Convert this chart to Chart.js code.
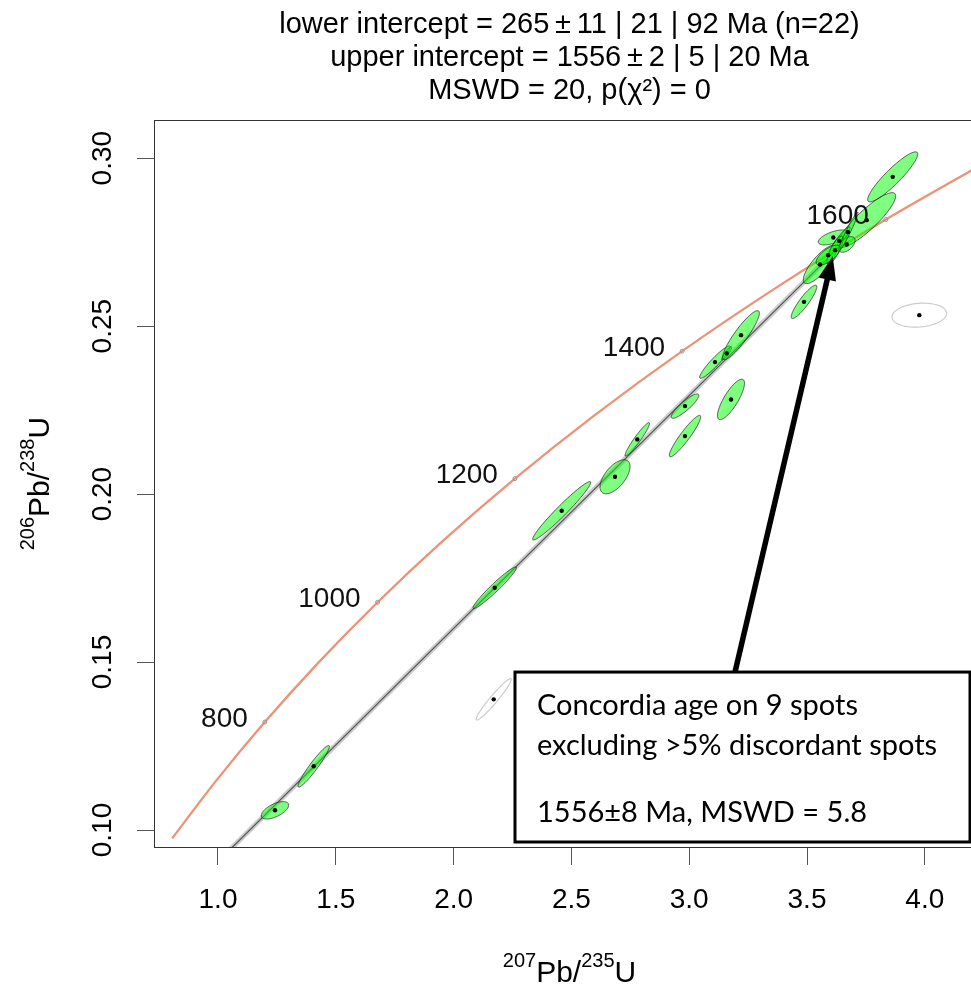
<!DOCTYPE html>
<html>
<head>
<meta charset="utf-8">
<script src="https://cdn.jsdelivr.net/npm/chart.js@4.4.1/dist/chart.umd.min.js"></script>
<style>
  html, body { margin: 0; padding: 0; background: #fff; overflow: hidden; }
  #wrap { position: relative; width: 1000px; height: 985px; }
</style>
</head>
<body>
<div id="wrap"><canvas id="c"></canvas></div>
<script>
// ---------- data ----------
const titleLines = [
  'lower intercept = 265\u2009±\u200911 | 21 | 92 Ma (n=22)',
  'upper intercept = 1556\u2009±\u20092 | 5 | 20 Ma',
  'MSWD = 20, p(\u03C7\u00B2) = 0'
];
const xTicks = [1.0, 1.5, 2.0, 2.5, 3.0, 3.5, 4.0];
const yTicks = [0.10, 0.15, 0.20, 0.25, 0.30];
const xRange = [0.7284, 4.2555];
const yRange = [0.09494, 0.31131];

// concordia curve (ages in Ma)
const concordiaAge = [600, 700, 800, 900, 1000, 1100, 1200, 1300, 1400, 1500, 1600, 1700];
const concordiaX = [0.8056, 0.9925, 1.1987, 1.4263, 1.6774, 1.9545, 2.2603, 2.5977, 2.9701, 3.3810, 3.8344, 4.3348];
const concordiaY = [0.09754, 0.11470, 0.13213, 0.14983, 0.16780, 0.18606, 0.20460, 0.22343, 0.24256, 0.26199, 0.28172, 0.30175];

// age markers on the concordia
const ageLabels = ['800', '1000', '1200', '1400', '1600'];
const ageMarkX = [1.1987, 1.6774, 2.2603, 2.9701, 3.8344];
const ageMarkY = [0.13213, 0.16780, 0.20460, 0.24256, 0.28172];

// discordia line (lower intercept -> upper intercept)
const discordiaX = [0.2982, 3.6294];
const discordiaY = [0.04197, 0.27300];

// analysed spots (error ellipses): centre, half-extent in x and y, correlation
const spotX   = [1.2419, 1.4062, 2.1745, 2.4588, 2.6851, 2.7797, 2.9822, 2.9822, 3.1774, 3.1095, 3.1592, 3.2199, 3.4873, 3.8638, 3.7534, 3.5552, 3.6116, 3.6371, 3.6685, 3.6188, 3.6740, 3.5900];
const spotY   = [0.10586, 0.11896, 0.17211, 0.19503, 0.20515, 0.21628, 0.22619, 0.21726, 0.22818, 0.23929, 0.24188, 0.24732, 0.25723, 0.29444, 0.28155, 0.26836, 0.27640, 0.27539, 0.27432, 0.27262, 0.27798, 0.27113];
const spotDX  = [0.0581, 0.0666, 0.0921, 0.1231, 0.0637, 0.0518, 0.0586, 0.0666, 0.0573, 0.0650, 0.0212, 0.0778, 0.0543, 0.1061, 0.1231, 0.0709, 0.0637, 0.0460, 0.0354, 0.0340, 0.0424, 0.0510];
const spotDY  = [0.00259, 0.00619, 0.00619, 0.00869, 0.00506, 0.00497, 0.00363, 0.00616, 0.00601, 0.00482, 0.00199, 0.00729, 0.00497, 0.00744, 0.00818, 0.00571, 0.00223, 0.00422, 0.00233, 0.00417, 0.00595, 0.00298];
const spotRho = [0.60, 0.95, 0.965, 0.97, 0.60, 0.95, 0.88, 0.93, 0.80, 0.935, 0.90, 0.90, 0.90, 0.91, 0.88, 0.80, 0.60, 0.93, 0.50, 0.80, 0.97, 0.70];

// rejected spots (grey, unfilled)
const rejX   = [2.1702, 3.9767];
const rejY   = [0.13890, 0.25327];
const rejDX  = [0.0743, 0.1159];
const rejDY  = [0.00616, 0.00357];
const rejRho = [0.96, 0.15];

// annotation box + arrow (data units)
const noteLines = ['Concordia age on 9 spots', 'excluding >5% discordant spots', '1556\u00B18 Ma, MSWD = 5.8'];
const noteBoxX = [2.2606, 4.1919];
const noteBoxY = [0.09643, 0.14702];
const arrowFrom = [3.1944, 0.14702];
const arrowTo = [3.6091, 0.27083];

const FONT = "'Liberation Sans', Arial, Helvetica, sans-serif";

// ---------- plugins ----------
function ellipsePath(ctx, xs, ys, cx, cy, dx, dy, r) {
  const s = Math.sqrt(1 - r * r);
  ctx.beginPath();
  for (let i = 0; i <= 120; i++) {
    const t = i / 120 * 2 * Math.PI;
    const px = xs.getPixelForValue(cx + dx * Math.cos(t));
    const py = ys.getPixelForValue(cy + dy * (r * Math.cos(t) + s * Math.sin(t)));
    if (i === 0) ctx.moveTo(px, py); else ctx.lineTo(px, py);
  }
  ctx.closePath();
}

const ellipsePlugin = {
  id: 'ellipses',
  beforeDatasetDraw(chart, args) {
    if (args.index !== 1) return;
    const {ctx, chartArea: a, scales: {x, y}} = chart;
    ctx.save();
    ctx.beginPath(); ctx.rect(a.left, a.top, a.right - a.left, a.bottom - a.top); ctx.clip();
    for (let i = 0; i < rejX.length; i++) {
      ellipsePath(ctx, x, y, rejX[i], rejY[i], rejDX[i], rejDY[i], rejRho[i]);
      ctx.lineWidth = 1.2; ctx.strokeStyle = '#cccccc'; ctx.stroke();
    }
    for (let i = 0; i < spotX.length; i++) {
      ellipsePath(ctx, x, y, spotX[i], spotY[i], spotDX[i], spotDY[i], spotRho[i]);
      ctx.fillStyle = 'rgba(0,255,0,0.5)'; ctx.fill();
      ctx.lineWidth = 0.8; ctx.strokeStyle = 'rgba(30,30,30,0.9)'; ctx.stroke();
    }
    ctx.restore();
  }
};

const decorPlugin = {
  id: 'decor',
  afterDatasetsDraw(chart) {
    const {ctx, chartArea: a, scales: {x, y}} = chart;
    ctx.save();
    // age labels
    ctx.font = '28px ' + FONT;
    ctx.fillStyle = '#111';
    ctx.textAlign = 'right';
    ctx.textBaseline = 'middle';
    for (let i = 0; i < ageLabels.length; i++) {
      ctx.fillText(ageLabels[i], x.getPixelForValue(ageMarkX[i]) - 17, y.getPixelForValue(ageMarkY[i]) - 3);
    }
    // plot box
    ctx.strokeStyle = '#333'; ctx.lineWidth = 1;
    ctx.strokeRect(Math.round(a.left) + 0.5, Math.round(a.top) + 0.5, Math.round(a.right - a.left), Math.round(a.bottom - a.top));
    // arrow
    const x0 = x.getPixelForValue(arrowFrom[0]), y0 = y.getPixelForValue(arrowFrom[1]);
    const x1 = x.getPixelForValue(arrowTo[0]), y1 = y.getPixelForValue(arrowTo[1]);
    const ang = Math.atan2(y1 - y0, x1 - x0);
    const hl = 24, hw = 9;
    const bx = x1 - hl * Math.cos(ang), by = y1 - hl * Math.sin(ang);
    ctx.strokeStyle = '#000'; ctx.lineWidth = 5.5; ctx.lineCap = 'butt';
    ctx.beginPath(); ctx.moveTo(x0, y0); ctx.lineTo(bx + 2 * Math.cos(ang), by + 2 * Math.sin(ang)); ctx.stroke();
    ctx.fillStyle = '#000';
    ctx.beginPath();
    ctx.moveTo(x1, y1);
    ctx.lineTo(bx + hw * Math.sin(ang), by - hw * Math.cos(ang));
    ctx.lineTo(bx - hw * Math.sin(ang), by + hw * Math.cos(ang));
    ctx.closePath(); ctx.fill();
    // note box
    const l = x.getPixelForValue(noteBoxX[0]), r = x.getPixelForValue(noteBoxX[1]);
    const t = y.getPixelForValue(noteBoxY[1]), b = y.getPixelForValue(noteBoxY[0]);
    ctx.fillStyle = '#fff';
    ctx.fillRect(l, t, r - l, b - t);
    ctx.strokeStyle = '#000'; ctx.lineWidth = 3;
    ctx.strokeRect(l, t, r - l, b - t);
    ctx.fillStyle = '#000';
    ctx.font = "29px Lato, 'Open Sans', sans-serif";
    ctx.textAlign = 'left'; ctx.textBaseline = 'middle';
    ctx.fillText(noteLines[0], l + 22, t + 34);
    ctx.fillText(noteLines[1], l + 22, t + 74);
    ctx.fillText(noteLines[2], l + 22, t + 141);
    ctx.restore();
  },
  afterDraw(chart) {
    const {ctx, chartArea: a} = chart;
    ctx.save();
    ctx.fillStyle = '#000';
    ctx.textBaseline = 'alphabetic';
    ctx.textAlign = 'left';
    const big = '30px ' + FONT, small = '20px ' + FONT;
    const parts = [['207', 1], ['Pb/', 0], ['235', 1], ['U', 0]];
    const partsY = [['206', 1], ['Pb/', 0], ['238', 1], ['U', 0]];
    function drawComposite(p, cx, base) {
      let w = 0;
      p.forEach(([s, sup]) => { ctx.font = sup ? small : big; w += ctx.measureText(s).width; });
      let xx = cx - w / 2;
      p.forEach(([s, sup]) => {
        ctx.font = sup ? small : big;
        ctx.fillText(s, xx, base - (sup ? 15 : 0));
        xx += ctx.measureText(s).width;
      });
    }
    drawComposite(parts, (a.left + a.right) / 2, 982);
    ctx.translate(49, (a.top + a.bottom) / 2);
    ctx.rotate(-Math.PI / 2);
    drawComposite(partsY, 0, 0);
    ctx.restore();
  }
};

// ---------- chart ----------
const ctx = document.getElementById('c').getContext('2d');
new Chart(ctx, {
  type: 'scatter',
  data: {
    datasets: [
      { // 0 spot centres
        data: spotX.map((v, i) => ({x: v, y: spotY[i]})),
        pointRadius: 2.2, pointBackgroundColor: '#000', pointBorderWidth: 0, showLine: false
      },
      { // 1 rejected centres
        data: rejX.map((v, i) => ({x: v, y: rejY[i]})),
        pointRadius: 2.2, pointBackgroundColor: '#000', pointBorderWidth: 0, showLine: false
      },
      { // 2 age markers
        data: ageMarkX.map((v, i) => ({x: v, y: ageMarkY[i]})),
        pointRadius: 2, pointBackgroundColor: 'rgba(255,255,255,0)', pointBorderColor: '#999', pointBorderWidth: 1, showLine: false
      },
      { // 3 discordia line
        data: discordiaX.map((v, i) => ({x: v, y: discordiaY[i]})),
        showLine: true, borderColor: '#555', borderWidth: 1.2, pointRadius: 0
      },
      { // 4 discordia envelope
        data: discordiaX.map((v, i) => ({x: v, y: discordiaY[i]})),
        showLine: true, borderColor: 'rgba(140,140,140,0.45)', borderWidth: 5, pointRadius: 0
      },
      { // 5 concordia
        data: concordiaX.map((v, i) => ({x: v, y: concordiaY[i]})),
        showLine: true, borderColor: 'rgb(236,146,118)', borderWidth: 2.3, pointRadius: 0,
        cubicInterpolationMode: 'monotone'
      }
    ]
  },
  options: {
    responsive: true,
    maintainAspectRatio: false,
    animation: false,
    events: [],
    layout: { padding: { left: 0, right: 15, top: 0, bottom: 0 } },
    plugins: {
      legend: { display: false },
      tooltip: { enabled: false },
      title: {
        display: true,
        fullSize: false,
        text: titleLines,
        color: '#000',
        font: { family: FONT, size: 29, weight: 'normal', lineHeight: 1.14 },
        padding: { top: 8, bottom: 13 }
      }
    },
    scales: {
      x: {
        type: 'linear', min: xRange[0], max: xRange[1],
        afterBuildTicks: s => { s.ticks = xTicks.map(v => ({value: v})); },
        afterFit: s => { s.height = 138; },
        grid: { drawOnChartArea: false, drawTicks: true, tickLength: 18, color: '#555' },
        border: { display: false },
        ticks: { color: '#000', font: { family: FONT, size: 28 }, padding: 18, maxRotation: 0,
                 callback: v => Number(v).toFixed(1) }
      },
      y: {
        type: 'linear', min: yRange[0], max: yRange[1],
        afterBuildTicks: s => { s.ticks = yTicks.map(v => ({value: v})); },
        afterFit: s => { s.width = 154; },
        grid: { drawOnChartArea: false, drawTicks: true, tickLength: 17, color: '#555' },
        border: { display: false },
        ticks: { color: '#000', font: { family: FONT, size: 28 }, padding: 6, minRotation: 90, maxRotation: 90,
                 crossAlign: 'center', callback: v => Number(v).toFixed(2) }
      }
    }
  },
  plugins: [ellipsePlugin, decorPlugin]
});
</script>
</body>
</html>
